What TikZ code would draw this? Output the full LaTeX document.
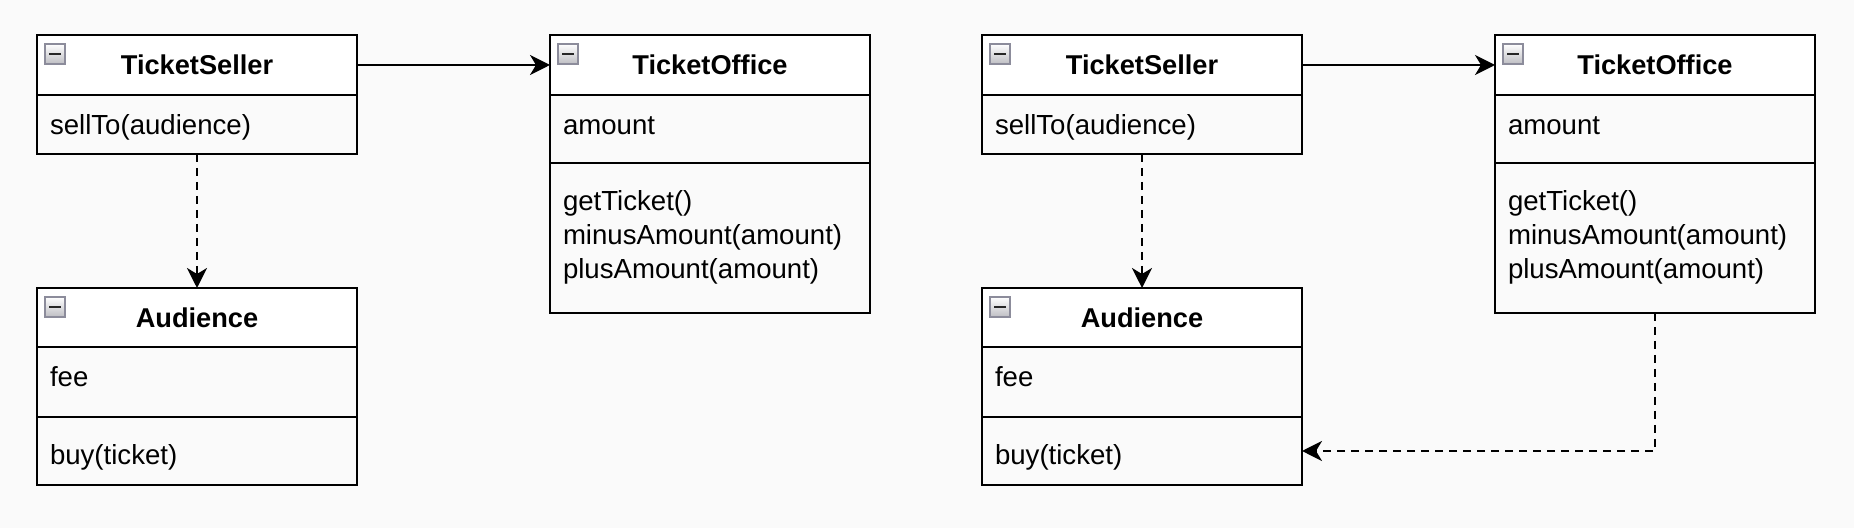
\documentclass[tikz,border=0pt]{standalone}
\usepackage{fontspec}
\newfontfamily\umlfont{Liberation Sans}
\usetikzlibrary{calc,arrows.meta}
\definecolor{bgc}{HTML}{FAFAFA}
\definecolor{iconborder}{RGB}{140,140,155}
\begin{document}
\begin{tikzpicture}[x=0.5pt,y=-0.5pt,
  hdr/.style={draw=black, line width=1pt, fill=white, minimum width=160pt, minimum height=30pt, inner sep=0pt, outer sep=0pt, anchor=north west, font=\umlfont\bfseries\fontsize{13.6}{16}\selectfont},
  cmp/.style={draw=black, line width=1pt, fill=bgc, minimum width=160pt, inner sep=0pt, outer sep=0pt, anchor=north},
  txt/.style={inner sep=0pt, outer sep=0pt, anchor=base west, font=\umlfont\fontsize{13.8}{16}\selectfont},
  assoc/.style={draw=black, line width=1pt, -{Stealth[length=10pt,width=10pt,inset=3pt]}},
  dep/.style={assoc, dash pattern=on 4pt off 3pt},
  iconbox/.style={draw=iconborder, line width=0.6pt, top color=white, bottom color={rgb,255:red,190;green,190;blue,195}},
  iconbar/.style={draw=black!85, line width=1.1pt}
]
\useasboundingbox[fill=bgc] (0,0) rectangle (1854,528);

\foreach \o/\s in {0/L,945/R}{
  % TicketSeller
  \node[hdr] (tsH\s) at (37+\o,35) {TicketSeller};
  \node[cmp, minimum height=29.5pt] (tsB\s) at (tsH\s.south) {};
  \node[txt] (tsT\s) at ($(tsB\s.north west)+(13,40)$) {sellTo(audience)};
  % TicketOffice
  \node[hdr] (toH\s) at (550+\o,35) {TicketOffice};
  \node[cmp, minimum height=34pt] (toA\s) at (toH\s.south) {};
  \node[cmp, minimum height=75pt] (toM\s) at (toA\s.south) {};
  \node[txt] (toA1\s) at ($(toA\s.north west)+(13,40)$) {amount};
  \node[txt] (toM1\s) at ($(toM\s.north west)+(13,48)$) {getTicket()};
  \node[txt] (toM2\s) at ($(toM\s.north west)+(13,82)$) {minusAmount(amount)};
  \node[txt] (toM3\s) at ($(toM\s.north west)+(13,116)$) {plusAmount(amount)};
  % Audience
  \node[hdr, minimum height=29.5pt] (auH\s) at (37+\o,288) {Audience};
  \node[cmp, minimum height=35pt] (auA\s) at (auH\s.south) {};
  \node[cmp, minimum height=34pt] (auM\s) at (auA\s.south) {};
  \node[txt] (auA1\s) at ($(auA\s.north west)+(13,40)$) {fee};
  \node[txt] (auM1\s) at ($(auM\s.north west)+(13,48)$) {buy(ticket)};
  % collapse icons
  \foreach \n in {tsH\s,toH\s,auH\s}{
    \draw[iconbox] ($(\n.north west)+(8,9)$) rectangle ($(\n.north west)+(28,29)$);
    \draw[iconbar] ($(\n.north west)+(12,19)$) -- ($(\n.north west)+(24,19)$);
  }
  % connectors
  \draw[assoc] (tsH\s.east) -- (toH\s.west);
  \draw[dep] (tsB\s.south) -- (auH\s.north);
}
\draw[dep] (toMR.south) |- (auMR.east);
\end{tikzpicture}
\end{document}
